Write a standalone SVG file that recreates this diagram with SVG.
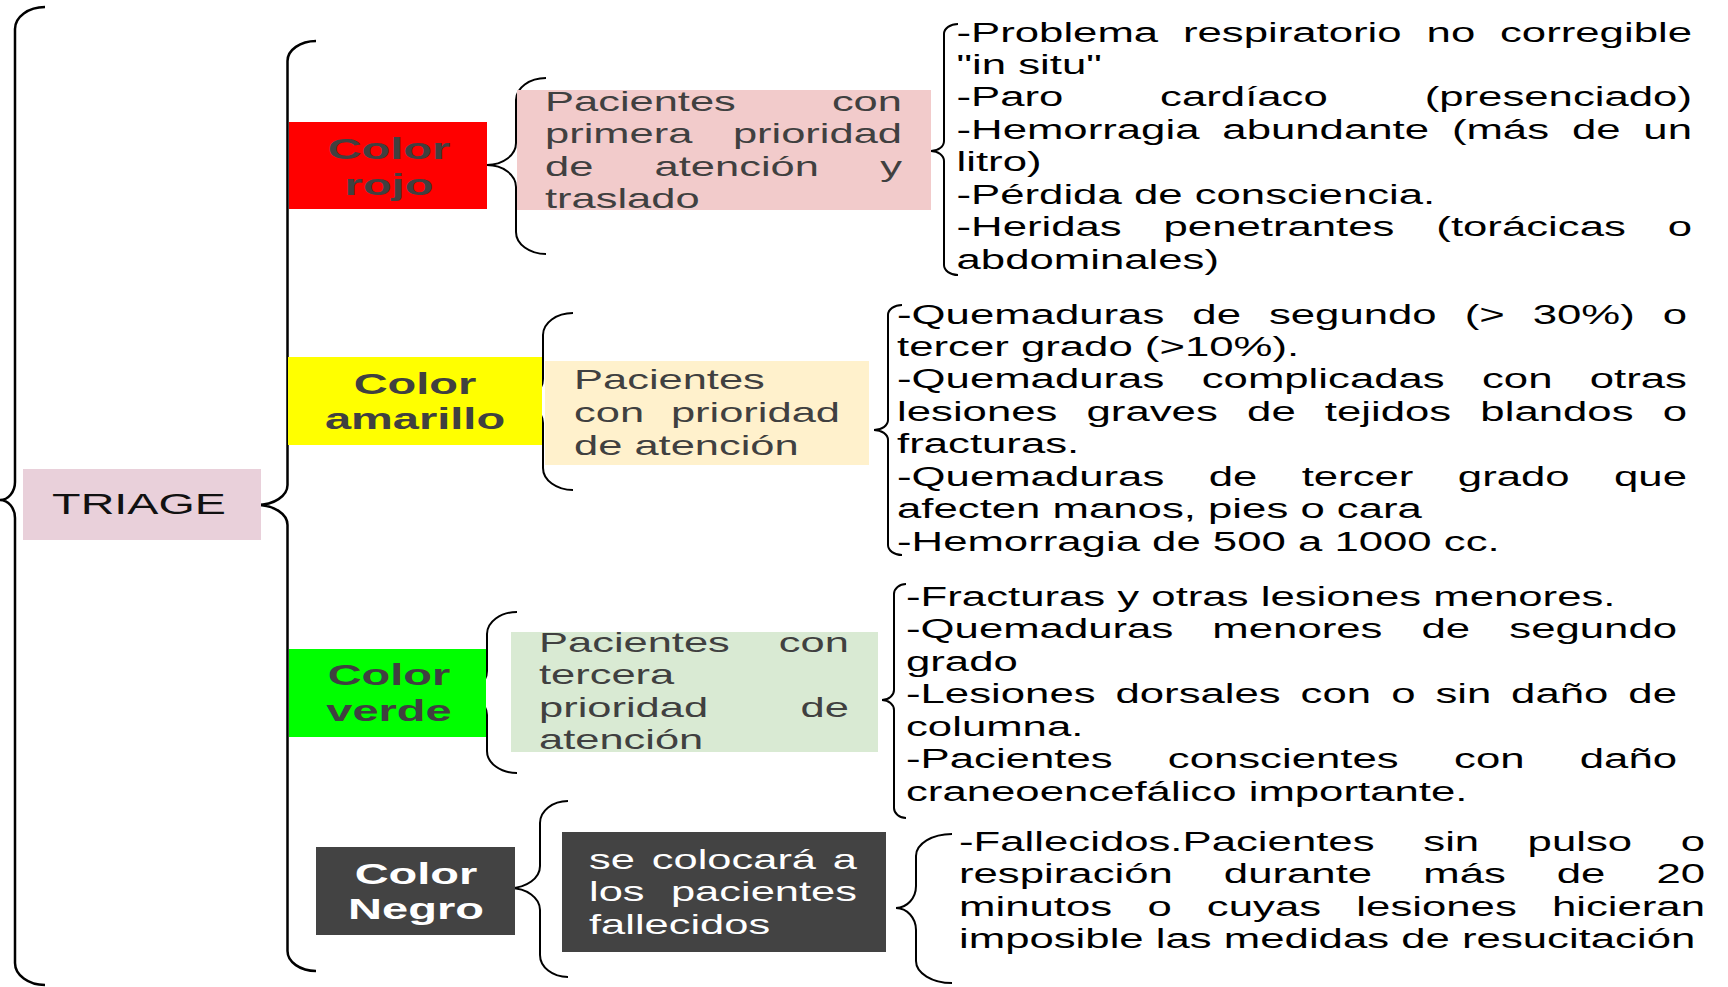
<svg xmlns="http://www.w3.org/2000/svg" width="1728" height="987" viewBox="0 0 1728 987">
<style>
text{font-family:"Liberation Sans",Arial,sans-serif}
.lst{font-size:27px;fill:#000}
.box{font-size:27px;fill:#404040}
.boxw{font-size:27px;fill:#fff}
.lbl{font-size:30px;font-weight:bold;fill:#404040;text-anchor:middle}
.lblw{font-size:30px;font-weight:bold;fill:#fff;text-anchor:middle}
.br{fill:none;stroke:#000;stroke-width:2}
.brb{fill:none;stroke:#000;stroke-width:2.5}
</style>
<rect width="1728" height="987" fill="#fff"/>
<g id="connectors">
<path class="brb" d="M45,7 C28.4,7 15,16.9 15,29 L15,482 C15,491.9 8.3,500 0,500 C8.3,500 15,508.1 15,518 L15,963 C15,975.1 28.4,985 45,985"/>
<path class="brb" d="M316,41 C300.3,41 287.5,50 287.5,61 L287.5,485 C287.5,496 273.8,505 257,505 C273.8,505 287.5,514 287.5,525 L287.5,951 C287.5,962 300.3,971 316,971"/>
<path class="br" d="M546,78 C529.4,78 516,87.9 516,100 L516,143 C516,155.1 503,165 487,165 C503,165 516,174.9 516,187 L516,232 C516,244.1 529.4,254 546,254"/>
<path class="br" d="M573,313 C556.4,313 543,322.9 543,335 L543,379 C543,391.1 530,401 514,401 C530,401 543,410.9 543,423 L543,468 C543,480.1 556.4,490 573,490"/>
<path class="br" d="M517,612 C500.4,612 487,621.9 487,634 L487,671 C487,683.1 474,693 458,693 C474,693 487,702.9 487,715 L487,751 C487,763.1 500.4,773 517,773"/>
<path class="br" d="M568,801 C552.5,801 540,810.9 540,823 L540,866 C540,878.1 526.6,888 510,888 C526.6,888 540,897.9 540,910 L540,955 C540,967.1 552.5,977 568,977"/>
<path class="br" d="M958,24 C950.3,24 944,28.5 944,34 L944,141 C944,146.5 938.2,151 931,151 C938.2,151 944,155.5 944,161 L944,265 C944,270.5 950.3,275 958,275"/>
<path class="br" d="M902,305 C894.3,305 888,309.5 888,315 L888,420 C888,425.5 881.7,430 874,430 C881.7,430 888,434.5 888,440 L888,545 C888,550.5 894.3,555 902,555"/>
<path class="br" d="M906,584 C899.4,584 894,588.5 894,594 L894,690 C894,695.5 888.6,700 882,700 C888.6,700 894,704.5 894,710 L894,808 C894,813.5 899.4,818 906,818"/>
<path class="br" d="M952,834 C932.1,834 916,843.9 916,856 L916,886 C916,898.1 907,908 896,908 C907,908 916,917.9 916,930 L916,961 C916,973.1 932.1,983 952,983"/>
</g>
<g id="triage">
<rect x="23" y="469" width="238" height="71" fill="#e9d0da"/>
<text transform="translate(139,514) scale(1.61,1)" style="font-size:29px;fill:#111;text-anchor:middle">TRIAGE</text>
</g>
<g id="color-rojo">
<rect x="289" y="122" width="198" height="87" fill="#ff0000"/>
<text class="lbl" transform="translate(389,159) scale(1.567,1)"><tspan x="0" y="0">Color</tspan><tspan x="0" y="35.6">rojo</tspan></text>
</g>
<g id="color-amarillo">
<rect x="288" y="357" width="254" height="88" fill="#ffff00"/>
<text class="lbl" transform="translate(415,394) scale(1.567,1)"><tspan x="0" y="0">Color</tspan><tspan x="0" y="34.6">amarillo</tspan></text>
</g>
<g id="color-verde">
<rect x="289" y="649" width="197" height="88" fill="#00ff00"/>
<text class="lbl" transform="translate(389,685.4) scale(1.567,1)"><tspan x="0" y="0">Color</tspan><tspan x="0" y="35.6">verde</tspan></text>
</g>
<g id="color-negro">
<rect x="316" y="847" width="199" height="88" fill="#434343"/>
<text class="lblw" transform="translate(416,883.6) scale(1.567,1)"><tspan x="0" y="0">Color</tspan><tspan x="0" y="35">Negro</tspan></text>
</g>
<g id="rojo-desc">
<rect x="517" y="90" width="414" height="120" fill="#f2cbcb"/>
<text class="box" transform="translate(545,111) scale(1.61,1)"><tspan x="0" y="0">Pacientes </tspan><tspan x="178.2" y="0">con</tspan><tspan x="0" y="32.5">primera </tspan><tspan x="116.7" y="32.5">prioridad</tspan><tspan x="0" y="65">de </tspan><tspan x="68.1" y="65">atención </tspan><tspan x="208.2" y="65">y</tspan><tspan x="0" y="97.5">traslado</tspan></text>
</g>
<g id="amarillo-desc">
<rect x="545" y="361" width="324" height="104" fill="#fff1cc"/>
<text class="box" transform="translate(574,389) scale(1.61,1)"><tspan x="0" y="0">Pacientes</tspan><tspan x="0" y="33">con </tspan><tspan x="60.2" y="33">prioridad</tspan><tspan x="0" y="66">de atención</tspan></text>
</g>
<g id="verde-desc">
<rect x="511" y="632" width="367" height="120" fill="#d9ead3"/>
<text class="box" transform="translate(539,652) scale(1.61,1)"><tspan x="0" y="0">Pacientes </tspan><tspan x="149" y="0">con</tspan><tspan x="0" y="32.4">tercera</tspan><tspan x="0" y="64.8">prioridad </tspan><tspan x="162.5" y="64.8">de</tspan><tspan x="0" y="97.2">atención</tspan></text>
</g>
<g id="negro-desc">
<rect x="562" y="832" width="324" height="120" fill="#434343"/>
<text class="boxw" transform="translate(589,869) scale(1.61,1)"><tspan x="0" y="0">se </tspan><tspan x="39" y="0">colocará </tspan><tspan x="151.4" y="0">a</tspan><tspan x="0" y="32.5">los </tspan><tspan x="50.9" y="32.5">pacientes</tspan><tspan x="0" y="65">fallecidos</tspan></text>
</g>
<g id="rojo-list">
<text class="lst" transform="translate(956.5,41.5) scale(1.62,1)"><tspan x="0" y="0">-Problema </tspan><tspan x="139.8" y="0">respiratorio </tspan><tspan x="290.2" y="0">no </tspan><tspan x="335.5" y="0">corregible</tspan><tspan x="0" y="32.5">"in situ"</tspan><tspan x="0" y="65">-Paro </tspan><tspan x="125.7" y="65">cardíaco </tspan><tspan x="289" y="65">(presenciado)</tspan><tspan x="0" y="97.5">-Hemorragia </tspan><tspan x="164.1" y="97.5">abundante </tspan><tspan x="305.8" y="97.5">(más </tspan><tspan x="379.9" y="97.5">de </tspan><tspan x="424" y="97.5">un</tspan><tspan x="0" y="130">litro)</tspan><tspan x="0" y="162.5">-Pérdida de consciencia.</tspan><tspan x="0" y="195">-Heridas </tspan><tspan x="127.8" y="195">penetrantes </tspan><tspan x="296.2" y="195">(torácicas </tspan><tspan x="439" y="195">o</tspan><tspan x="0" y="227.5">abdominales)</tspan></text>
</g>
<g id="amarillo-list">
<text class="lst" transform="translate(897,323.5) scale(1.62,1)"><tspan x="0" y="0">-Quemaduras </tspan><tspan x="182.3" y="0">de </tspan><tspan x="229.6" y="0">segundo </tspan><tspan x="350.4" y="0">(&gt; </tspan><tspan x="392.4" y="0">30%) </tspan><tspan x="472.7" y="0">o</tspan><tspan x="0" y="32.5">tercer grado (&gt;10%).</tspan><tspan x="0" y="65">-Quemaduras </tspan><tspan x="188.1" y="65">complicadas </tspan><tspan x="361.1" y="65">con </tspan><tspan x="427.6" y="65">otras</tspan><tspan x="0" y="97.5">lesiones </tspan><tspan x="117" y="97.5">graves </tspan><tspan x="216.1" y="97.5">de </tspan><tspan x="264.1" y="97.5">tejidos </tspan><tspan x="360.1" y="97.5">blandos </tspan><tspan x="472.7" y="97.5">o</tspan><tspan x="0" y="130">fracturas.</tspan><tspan x="0" y="162.5">-Quemaduras </tspan><tspan x="192.4" y="162.5">de </tspan><tspan x="249.8" y="162.5">tercer </tspan><tspan x="346.2" y="162.5">grado </tspan><tspan x="442.6" y="162.5">que</tspan><tspan x="0" y="195">afecten manos, pies o cara</tspan><tspan x="0" y="227.5">-Hemorragia de 500 a 1000 cc.</tspan></text>
</g>
<g id="verde-list">
<text class="lst" transform="translate(906,606) scale(1.62,1)"><tspan x="0" y="0">-Fracturas y otras lesiones menores.</tspan><tspan x="0" y="32.5">-Quemaduras </tspan><tspan x="189.1" y="32.5">menores </tspan><tspan x="318.2" y="32.5">de </tspan><tspan x="372.4" y="32.5">segundo</tspan><tspan x="0" y="65">grado</tspan><tspan x="0" y="97.5">-Lesiones </tspan><tspan x="129.3" y="97.5">dorsales </tspan><tspan x="243.6" y="97.5">con </tspan><tspan x="299.5" y="97.5">o </tspan><tspan x="326.8" y="97.5">sin </tspan><tspan x="373.5" y="97.5">daño </tspan><tspan x="445.9" y="97.5">de</tspan><tspan x="0" y="130">columna.</tspan><tspan x="0" y="162.5">-Pacientes </tspan><tspan x="161.6" y="162.5">conscientes </tspan><tspan x="338.3" y="162.5">con </tspan><tspan x="415.9" y="162.5">daño</tspan><tspan x="0" y="195">craneoencefálico importante.</tspan></text>
</g>
<g id="negro-list">
<text class="lst" transform="translate(959,851) scale(1.62,1)"><tspan x="0" y="0">-Fallecidos.Pacientes </tspan><tspan x="286.6" y="0">sin </tspan><tspan x="351" y="0">pulso </tspan><tspan x="445.5" y="0">o</tspan><tspan x="0" y="32.5">respiración </tspan><tspan x="163.5" y="32.5">durante </tspan><tspan x="286.6" y="32.5">más </tspan><tspan x="369" y="32.5">de </tspan><tspan x="430.5" y="32.5">20</tspan><tspan x="0" y="65">minutos </tspan><tspan x="116.3" y="65">o </tspan><tspan x="153" y="65">cuyas </tspan><tspan x="245.3" y="65">lesiones </tspan><tspan x="366" y="65">hicieran</tspan><tspan x="0" y="97.5">imposible las medidas de resucitación</tspan></text>
</g>
</svg>
